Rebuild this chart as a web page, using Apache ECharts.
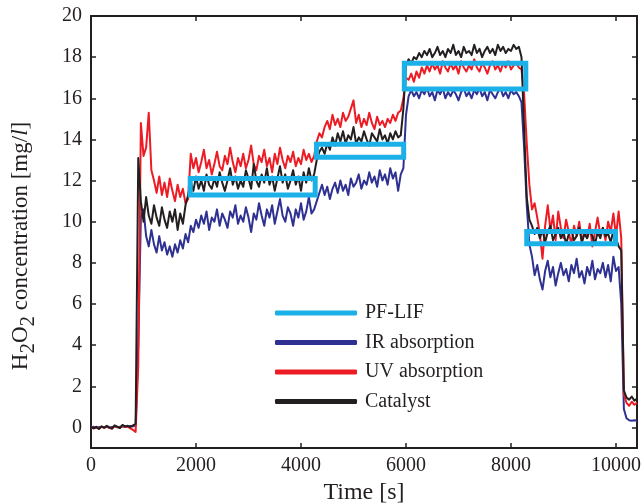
<!DOCTYPE html>
<html>
<head>
<meta charset="utf-8">
<script src="https://cdn.jsdelivr.net/npm/echarts@6/dist/echarts.min.js"></script>
<style>
html,body{margin:0;padding:0;background:#fff;}
#chart{width:642px;height:503px;}
</style>
</head>
<body>
<div id="chart"></div>
<script>
// sample spacing of the traces (s)
const sampleStep = 50;

const catalyst = [
  0.02,-0.05,0.03,-0.08,0.05,-0.02,0.08,0.00,-0.06,0.10,0.04,-0.03,0.12,0.05,0.08,0.02,0.10,0.18,
  13.1,11.0,10.0,11.2,10.3,9.9,10.8,10.2,9.8,10.7,10.1,9.7,10.5,10.0,10.6,9.6,10.4,9.9,10.8,11.3,11.9,11.5,
  12.2,11.6,12.0,11.5,12.3,11.8,11.6,12.1,11.7,12.4,11.9,11.5,12.0,12.6,11.8,12.2,11.6,12.0,11.7,12.5,
  12.1,11.6,12.8,12.0,11.7,12.3,11.9,12.6,11.8,12.2,11.5,12.1,12.7,11.9,12.3,11.6,12.0,12.5,11.8,12.2,
  11.5,12.4,11.9,12.6,12.0,12.3,
  13.0,13.4,13.6,
  13.3,13.8,13.5,14.1,13.7,14.3,13.9,14.4,13.8,14.2,14.0,14.6,13.8,14.1,13.9,14.4,14.0,13.7,14.3,14.1,
  13.9,14.5,14.0,14.2,13.8,14.3,14.0,14.4,14.1,14.2,
  15.5,17.6,
  17.9,17.7,18.0,17.9,18.2,18.0,18.3,18.1,18.4,18.0,18.2,18.5,18.1,18.3,18.0,18.4,18.2,18.6,18.1,18.3,
  18.0,18.5,18.2,18.3,18.1,18.6,18.2,18.4,18.0,18.3,18.5,18.2,18.4,18.1,18.6,18.3,18.5,18.2,18.4,18.3,
  18.6,18.4,18.5,
  18.0,14.5,11.2,10.1,9.8,9.4,
  9.7,9.2,9.6,9.0,9.5,9.8,9.1,9.4,9.7,9.2,9.5,8.9,9.4,9.6,9.1,9.3,9.7,9.0,9.4,9.2,
  9.6,9.3,8.9,9.5,9.2,9.7,9.3,9.4,9.0,9.6,9.2,8.8,
  8.6,1.8,1.45,1.35,1.5,1.3,1.4
];

const uvAbsorption = [
  0.00,-0.04,0.02,-0.06,0.03,0.00,0.05,-0.03,-0.05,0.06,0.02,-0.02,0.07,0.03,0.04,-0.05,-0.12,-0.22,
  3.0,14.8,13.2,13.6,15.3,12.5,12.0,11.4,12.2,11.3,11.9,11.2,12.1,11.5,11.0,11.8,11.2,11.6,10.9,11.1,13.3,12.6,
  13.1,12.4,12.9,13.5,12.6,13.0,12.3,12.8,13.4,12.7,12.5,13.2,12.8,13.6,12.9,12.4,13.1,12.7,13.3,12.6,
  13.0,13.7,12.8,12.5,13.2,12.9,13.5,12.7,13.1,12.4,13.3,12.8,13.6,13.0,12.6,13.2,12.9,13.4,12.7,13.1,
  12.8,13.5,13.0,13.3,12.9,13.2,
  13.9,14.3,14.1,
  14.6,14.9,14.5,15.2,14.7,15.0,14.6,15.3,14.9,15.1,15.5,15.9,14.8,15.2,14.6,15.0,14.7,15.3,14.8,14.5,
  15.1,14.7,14.9,14.6,15.0,14.8,15.2,14.9,15.3,15.4,
  16.0,17.0,
  16.9,17.2,16.8,17.3,17.0,17.5,17.2,17.6,17.3,17.7,17.4,17.6,17.2,17.8,17.5,17.3,17.7,17.4,17.6,17.2,
  17.8,17.5,17.3,17.6,17.4,17.9,17.5,17.3,17.7,17.5,17.2,17.6,17.8,17.4,17.6,17.3,17.7,17.5,17.8,17.4,
  17.6,17.7,17.5,
  17.4,16.2,13.8,11.8,10.6,10.9,
  10.2,9.4,8.2,9.8,10.8,9.6,10.3,9.1,10.5,9.7,9.2,10.1,9.5,8.9,9.8,9.3,10.0,9.0,9.6,9.2,
  9.9,8.8,9.5,10.2,9.4,9.7,9.1,10.0,9.5,10.4,9.3,10.5,
  9.2,1.6,1.2,1.05,1.25,1.1,1.2
];

const irAbsorption = [
  0.00,0.03,-0.02,0.01,0.04,0.00,0.03,-0.01,0.02,0.05,0.01,0.03,0.06,0.02,0.04,0.07,0.05,0.10,
  4.0,10.2,10.6,9.3,8.8,9.6,8.9,8.5,9.3,8.6,9.0,8.4,8.8,8.3,8.9,8.5,9.1,8.7,9.4,9.0,9.8,9.5,
  10.1,9.7,10.3,9.9,10.5,9.6,10.2,10.0,10.6,9.8,10.4,10.1,9.7,10.5,10.2,10.8,9.9,10.3,10.0,10.7,
  10.2,9.5,10.4,10.1,10.9,10.3,9.8,10.6,10.2,10.8,9.9,10.5,11.1,10.3,10.0,10.7,10.4,9.8,10.6,10.2,
  10.9,10.1,10.5,11.2,10.4,10.6,
  11.0,11.4,11.8,
  11.3,11.7,11.1,11.6,11.9,11.4,12.0,11.5,11.8,11.3,12.1,11.7,11.9,12.3,11.6,12.0,11.8,12.4,11.9,12.2,
  11.7,12.5,12.0,12.3,11.8,12.6,12.1,12.4,11.5,12.3,
  12.6,15.2,
  16.1,16.4,16.1,16.3,16.0,16.4,16.2,16.5,16.1,16.3,15.9,16.4,16.2,16.5,16.0,16.3,16.1,16.4,16.2,15.9,
  16.3,16.5,16.1,16.3,16.0,16.4,16.2,16.5,16.1,16.3,15.9,16.4,16.2,16.0,16.3,16.5,16.1,16.3,16.0,16.4,
  16.2,16.3,16.1,
  15.8,13.6,10.8,8.9,8.3,7.4,
  7.9,7.2,6.7,7.6,8.1,7.3,7.8,6.9,7.5,8.0,7.4,7.7,7.1,7.9,7.5,8.2,7.3,7.6,7.0,7.8,
  7.4,8.1,7.2,7.7,7.5,8.0,7.3,7.9,7.1,8.3,7.6,7.8,
  6.0,0.9,0.45,0.35,0.33,0.35,0.34
];

// PF-LIF measurement boxes
const pfStart = [1890, 4295, 5968, 8300];
const pfEnd   = [4270, 5956, 8282, 9990];
const pfLow   = [11.3, 13.13, 16.45, 8.93];
const pfHigh  = [12.1, 13.77, 17.7, 9.52];

const xTicks = [0, 2000, 4000, 6000, 8000, 10000];
const yTicks = [0, 2, 4, 6, 8, 10, 12, 14, 16, 18, 20];

const FONT = '"Liberation Serif", "DejaVu Serif", serif';
const INK = '#231f20';
const C_PF = '#1cb0e8', C_IR = '#2e3192', C_UV = '#ed1c24', C_CAT = '#231f20';

const times = catalyst.map((_, i) => i * sampleStep);
const toPts = arr => arr.map((v, i) => [times[i], v]);

function traceSeries(name, arr, color) {
  return {
    type: 'line', name: name, data: toPts(arr), symbol: 'none', color: color,
    lineStyle: { color: color, width: 2, join: 'round' },
    itemStyle: { color: color }, animation: false
  };
}

const boxSeries = pfStart.map((s, k) => ({
  type: 'line', name: 'PF-LIF', symbol: 'none', color: C_PF,
  data: [[s, pfLow[k]], [s, pfHigh[k]], [pfEnd[k], pfHigh[k]], [pfEnd[k], pfLow[k]], [s, pfLow[k]], [s, pfHigh[k]]],
  lineStyle: { color: C_PF, width: 5, join: 'miter', cap: 'butt' },
  itemStyle: { color: C_PF }, animation: false, z: 5
}));

const axisCommon = {
  axisLine: { show: true, onZero: false, lineStyle: { color: INK, width: 2 } },
  splitLine: { show: false },
};

// y-axis title built from pieces so the subscripts can be lowered
const TITLE_SIZE = 23, SUB_SIZE = 21, SUB_SHIFT = 7;
const titlePieces = [
  ['H', 'n'], ['2', 's'], ['O', 'n'], ['2', 's'], [' concentration [mg/', 'n'], ['l', 'i'], [']', 'n']
];
const mctx = document.createElement('canvas').getContext('2d');
function pieceFont(kind) {
  const size = kind === 's' ? SUB_SIZE : TITLE_SIZE;
  return (kind === 'i' ? 'italic ' : '') + size + 'px ' + FONT;
}
let widths = titlePieces.map(p => { mctx.font = pieceFont(p[1]); return mctx.measureText(p[0]).width; });
const totalW = widths.reduce((a, b) => a + b, 0);
let cursor = -totalW / 2;
const titleChildren = titlePieces.map((p, k) => {
  const kind = p[1];
  const el = {
    type: 'text', x: cursor, y: kind === 's' ? SUB_SHIFT : 0,
    style: {
      text: p[0], fill: INK, align: 'left', verticalAlign: 'middle',
      fontSize: kind === 's' ? SUB_SIZE : TITLE_SIZE, fontFamily: FONT,
      fontStyle: kind === 'i' ? 'italic' : 'normal'
    }
  };
  cursor += widths[k];
  return el;
});

const chart = echarts.init(document.getElementById('chart'), null, { renderer: 'canvas' });
chart.setOption({
  animation: false,
  backgroundColor: '#fff',
  grid: { left: 91, right: 5, top: 16, bottom: 55, outerBoundsMode: 'none', containLabel: false },
  xAxis: [
    Object.assign({
      type: 'value', min: 0, max: 10400, position: 'bottom',
      axisTick: { inside: true, length: 5, customValues: xTicks, lineStyle: { color: INK, width: 1.5 } },
      axisLabel: { customValues: xTicks, formatter: v => String(v), fontSize: 20, fontFamily: FONT, color: INK, margin: 8 },
      name: 'Time [s]', nameLocation: 'middle', nameGap: 31,
      nameTextStyle: { fontSize: 24, fontFamily: FONT, color: INK }
    }, axisCommon),
    Object.assign({
      type: 'value', min: 0, max: 10400, position: 'top',
      axisTick: { inside: true, length: 5, customValues: xTicks, lineStyle: { color: INK, width: 1.5 } },
      axisLabel: { show: false }
    }, axisCommon)
  ],
  yAxis: [
    Object.assign({
      type: 'value', min: -1, max: 20, position: 'left',
      axisTick: { inside: true, length: 5, customValues: yTicks, lineStyle: { color: INK, width: 1.5 } },
      axisLabel: { customValues: yTicks, formatter: v => String(v), fontSize: 20, fontFamily: FONT, color: INK, margin: 9 }
    }, axisCommon),
    Object.assign({
      type: 'value', min: -1, max: 20, position: 'right',
      axisTick: { inside: true, length: 5, customValues: yTicks, lineStyle: { color: INK, width: 1.5 } },
      axisLabel: { show: false }
    }, axisCommon)
  ],
  legend: {
    data: ['PF-LIF', 'IR absorption', 'UV absorption', 'Catalyst'],
    orient: 'vertical', left: 270, top: 298,
    itemWidth: 82, itemHeight: 5, itemGap: 9.5, icon: 'roundRect',
    selectedMode: false,
    textStyle: { fontSize: 20, fontFamily: FONT, color: INK, lineHeight: 20, padding: [0, 0, 0, 3] }
  },
  graphic: [{
    type: 'group', x: 21, y: 246, rotation: Math.PI / 2,
    children: titleChildren
  }],
  series: [
    traceSeries('IR absorption', irAbsorption, C_IR),
    traceSeries('UV absorption', uvAbsorption, C_UV),
    traceSeries('Catalyst', catalyst, C_CAT)
  ].concat(boxSeries)
});
</script>
</body>
</html>
